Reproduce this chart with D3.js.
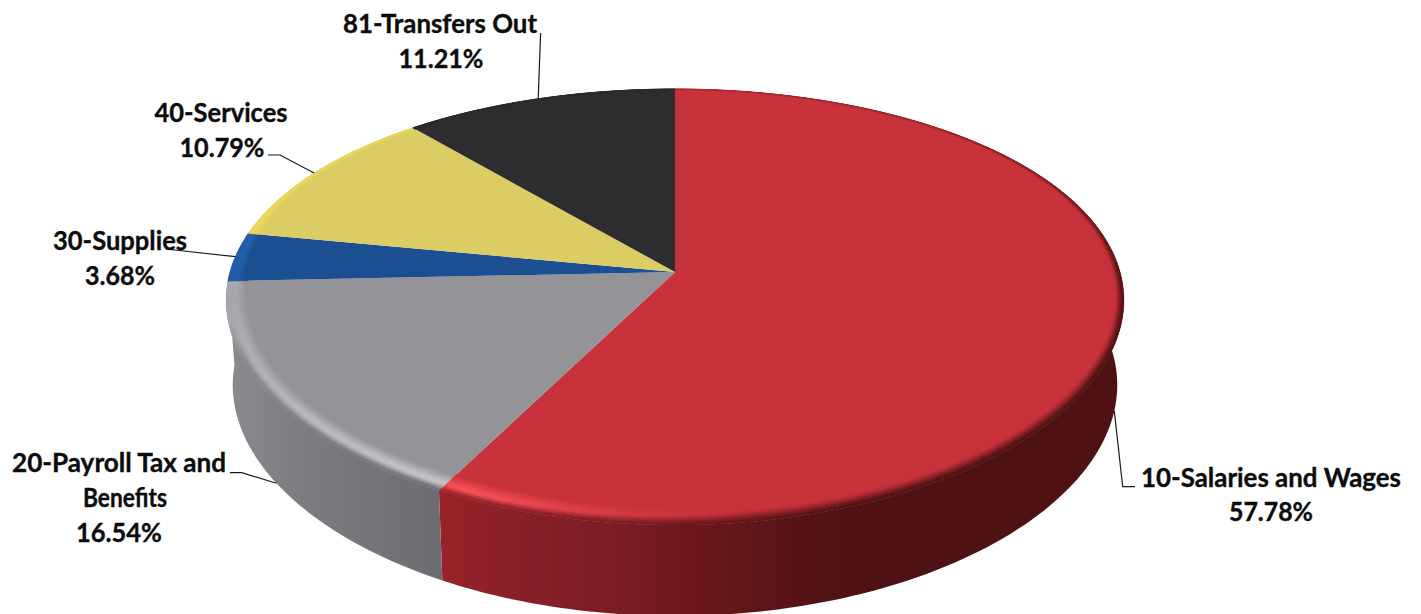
<!DOCTYPE html>
<html>
<head>
<meta charset="utf-8">
<title>Expenditures by category</title>
<script src="https://cdn.jsdelivr.net/npm/d3@7"></script>
<style>
  html, body { margin: 0; padding: 0; background: #fff; overflow: hidden; }
  svg { display: block; }
  text { font-family: Lato, "Open Sans", sans-serif; font-weight: 700; font-size: 26px; fill: #0c0c0c; stroke: #0c0c0c; stroke-width: .35px; }
</style>
</head>
<body>
<svg id="chart" width="1421" height="614"></svg>
<script>
// Slice values, clockwise from twelve o'clock
const categories = ["10-Salaries and Wages", "20-Payroll Tax and Benefits", "30-Supplies", "40-Services", "81-Transfers Out"];
const shares = [57.78, 16.54, 3.68, 10.79, 11.21];

// Fill styles per slice
const faceColors = ["#c8333b", "#939398", "#1c4f91", "#dccc64", "#2d2d2f"];
const ridgeColors = ["#f8525a", "#c8c8cc", "#2f72c8", "#f6e25a", "#2d2d2f"];
const wallStops = [
  { x: [442, 520, 620, 700, 800, 860, 1125], c: ["#962329", "#882028", "#7a1c23", "#6a171c", "#551316", "#4e1214", "#4e1214"] },
  { x: [226, 300, 442], c: ["#8a8a8f", "#7d7d81", "#6d6d71"] },
  { x: [226, 442], c: ["#163f74", "#163f74"] },
  { x: [226, 442], c: ["#b0a350", "#b0a350"] },
  { x: [226, 442], c: ["#1c1c1e", "#1c1c1e"] }
];

// Text blocks and leader elbows, one entry per slice
const labelLines = [
  [{ t: "10-Salaries and Wages", x: 1271, y: 487, w: 260 }, { t: "57.78%", x: 1271, y: 521, w: 84 }],
  [{ t: "20-Payroll Tax and", x: 119, y: 472, w: 214 }, { t: "Benefits", x: 125, y: 507, w: 84 }, { t: "16.54%", x: 119, y: 542, w: 86 }],
  [{ t: "30-Supplies", x: 120, y: 250, w: 134 }, { t: "3.68%", x: 120, y: 285, w: 70 }],
  [{ t: "40-Services", x: 221, y: 122, w: 133 }, { t: "10.79%", x: 222, y: 157, w: 85 }],
  [{ t: "81-Transfers Out", x: 440, y: 33, w: 194 }, { t: "11.21%", x: 441, y: 68, w: 85 }]
];
const leaderElbows = [
  { pts: [[1135, 486.7], [1122.7, 486.7]], level: 1 },
  { pts: [[230, 472.7], [241.7, 472.7]], level: 1 },
  { pts: [[166, 249]], level: 0 },
  { pts: [[268, 155], [280, 155]], level: 0 },
  { pts: [[540.6, 33]], level: 0 }
];

// Perspective of the disc: the top rim and the base rim as two projected circles
const perspectiveX = 0.13;
const perspectiveY = 0.1606;
const cx = 675;
const rims = [
  { apexY: 272, radiusX: 445, radiusY: 212.4 },
  { apexY: 356, radiusX: 438.5, radiusY: 218.2 }
];
function project(angle, rho, level) {
  const rim = rims[level];
  const u = rho * Math.sin(angle), v = -rho * Math.cos(angle);
  return [cx + rim.radiusX * u / (1 - perspectiveX * v), rim.apexY + rim.radiusY * v / (1 - perspectiveY * v)];
}

const svg = d3.select("#chart");
const defs = svg.append("defs");
const pie = d3.pie().sort(null).value(d => d)(shares);
const deg = Math.PI / 180;
const outline = d3.line();

const wallColor = wallStops.map(s => d3.scaleLinear().domain(s.x).range(s.c).interpolate(d3.interpolateRgb).clamp(true));

// Width of the rounded edge, how strongly its ridge catches light, where it starts to fall, and how far it falls into the wall colour
const bevelWidth = d3.scaleLinear().domain([0, 60, 100, 150, 200, 262, 300, 360]).range([.008, .018, .03, .055, .066, .05, .012, .008]);
const ridgeGain = d3.scaleLinear().domain([0, 172, 185, 205, 262, 285, 330, 360]).range([0, 0, .25, 1, .4, .55, .5, 0]);
const edgeGain = d3.scaleLinear().domain([0, 40, 95, 205, 248, 258, 360]).range([.3, .4, 1, 1, 1, .05, .05]);
const fallStart = d3.scaleLinear().domain([170, 200]).range([.3, .62]).clamp(true);

function arcPoints(a0, a1, rho, level) {
  const n = Math.max(2, Math.ceil((a1 - a0) / deg));
  return d3.range(n + 1).map(i => project(a0 + (a1 - a0) * i / n, rho, level));
}

// Side wall: the band between top rim and base rim, for slices that face the viewer
const wallGroup = svg.append("g");
pie.forEach((d, i) => {
  const mid = (d.startAngle + d.endAngle) / 2;
  if (Math.cos(mid) >= 0) return;
  const id = "wall-" + i;
  const s = wallStops[i];
  const g = defs.append("linearGradient").attr("id", id).attr("gradientUnits", "userSpaceOnUse")
    .attr("x1", s.x[0]).attr("x2", s.x[s.x.length - 1]).attr("y1", 0).attr("y2", 0);
  s.x.forEach((x, k) => g.append("stop")
    .attr("offset", (x - s.x[0]) / (s.x[s.x.length - 1] - s.x[0]))
    .attr("stop-color", s.c[k]));
  const upper = arcPoints(d.startAngle, d.endAngle, 1, 0);
  const lower = arcPoints(d.startAngle, d.endAngle, 1, 1).reverse();
  wallGroup.append("path").attr("d", outline(upper.concat(lower)) + "Z").attr("fill", `url(#${id})`);
});

// Flat top face of every slice
svg.append("g").selectAll("path").data(pie).join("path")
  .attr("d", d => outline([project(0, 0, 0)].concat(arcPoints(d.startAngle, d.endAngle, 1, 0))) + "Z")
  .attr("fill", (d, i) => faceColors[i]);

// Rounded edge: small cells running round the rim, shaded from inside to outside
const bevel = svg.append("g");
const bands = 12;
pie.forEach((d, i) => {
  const n = Math.ceil((d.endAngle - d.startAngle) / deg);
  const toRidge = d3.interpolateRgb(faceColors[i], ridgeColors[i]);
  for (let k = 0; k < n; k++) {
    const a0 = d.startAngle + (d.endAngle - d.startAngle) * k / n;
    const a1 = d.startAngle + (d.endAngle - d.startAngle) * (k + 1) / n;
    const theta = (a0 + a1) / 2 / deg;
    const width = bevelWidth(theta);
    const xMid = project((a0 + a1) / 2, 1, 0)[0];
    const start = fallStart(theta);
    for (let b = 0; b < bands; b++) {
      const t0 = b / bands, t1 = (b + 1) / bands, t = (t0 + t1) / 2;
      const rise = Math.min(1, t / .62);
      const fall = Math.max(0, (t - start) / (1 - start));
      const lit = ridgeGain(theta) * rise * rise * (3 - 2 * rise);
      const edge = edgeGain(theta) * fall * fall * (3 - 2 * fall);
      const color = d3.interpolateRgb(toRidge(lit), wallColor[i](xMid))(edge);
      const r0 = 1 - width * (1 - t0), r1 = 1 - width * (1 - t1);
      bevel.append("path")
        .attr("d", outline([project(a0, r0, 0), project(a1, r0, 0), project(a1, r1, 0), project(a0, r1, 0)]) + "Z")
        .attr("fill", color).attr("stroke", color).attr("stroke-width", .5);
    }
  }
});

// Leader lines run from the slice's mid angle out to its label
svg.append("g").selectAll("path").data(pie).join("path")
  .attr("d", (d, i) => {
    const mid = (d.startAngle + d.endAngle) / 2;
    return outline(leaderElbows[i].pts.concat([project(mid, 1, leaderElbows[i].level)]));
  })
  .attr("fill", "none").attr("stroke", "#1a1a1a").attr("stroke-width", 1.2);

// Category and share labels
svg.append("g").selectAll("text").data(labelLines.flat()).join("text")
  .attr("x", d => d.x).attr("y", d => d.y)
  .attr("text-anchor", "middle")
  .attr("textLength", d => d.w).attr("lengthAdjust", "spacingAndGlyphs")
  .text(d => d.t);
</script>
</body>
</html>
